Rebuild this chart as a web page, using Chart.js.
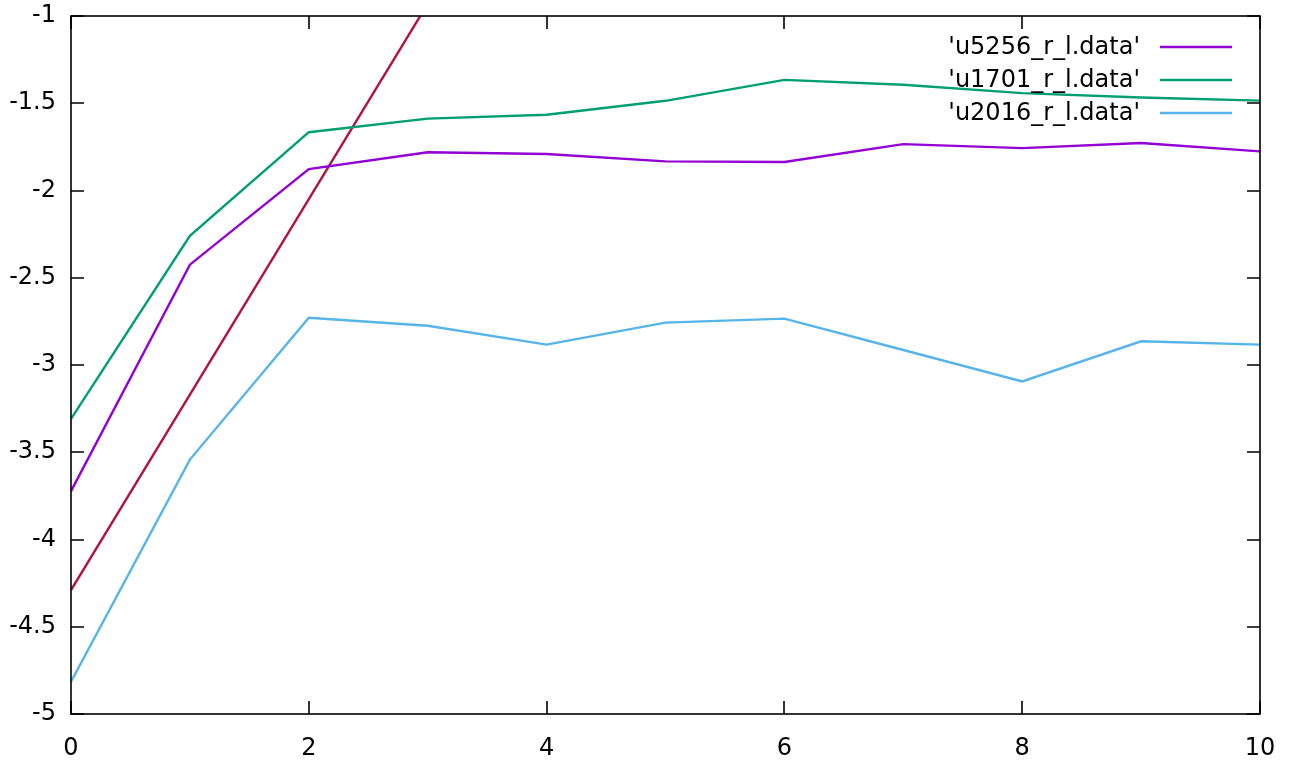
<!DOCTYPE html>
<html>
<head>
<meta charset="utf-8">
<script src="https://cdn.jsdelivr.net/npm/chart.js@4/dist/chart.umd.min.js"></script>
<style>
  html, body { margin: 0; padding: 0; background: #ffffff; }
  #c { display: block; }
</style>
</head>
<body>
<canvas id="c" width="1296" height="760"></canvas>
<script>
// x positions shared by the three data files
const xValues = [0, 1, 2, 3, 4, 5, 6, 7, 8, 9, 10];

// 'u5256_r_l.data'
const u5256 = [-3.723, -2.425, -1.877, -1.781, -1.791, -1.833, -1.837, -1.734, -1.757, -1.728, -1.776];
// 'u1701_r_l.data'
const u1701 = [-3.309, -2.260, -1.666, -1.588, -1.566, -1.486, -1.366, -1.394, -1.442, -1.467, -1.485];
// 'u2016_r_l.data'
const u2016 = [-4.815, -3.542, -2.729, -2.775, -2.883, -2.757, -2.734, -2.914, -3.094, -2.864, -2.883];

// straight reference line (no key entry), leaves the top of the plot
const refX = [0, 1, 2, 3];
const refY = [-4.29, -3.17, -2.05, -0.93];

// axis ticks
const xTicks = [0, 2, 4, 6, 8, 10];
const yTicks = [-5, -4.5, -4, -3.5, -3, -2.5, -2, -1.5, -1];

const seriesNames = ["'u5256_r_l.data'", "'u1701_r_l.data'", "'u2016_r_l.data'"];
const colors = ['#9400d3', '#009e73', '#56b4e9', '#b3123f'];

const FONT = 'DejaVu Sans';
const FONT_SIZE = 24;

function pts(xs, ys) { return xs.map((x, i) => ({ x: x, y: ys[i] })); }

// Frame with inward (mirrored) ticks, plus a gnuplot-style key
const framePlugin = {
  id: 'frame',
  afterDatasetsDraw(chart) {
    const { ctx, chartArea: a, scales } = chart;
    const tl = 13;
    ctx.save();
    ctx.strokeStyle = '#000000';
    ctx.lineWidth = 1.6;
    ctx.beginPath();
    for (const v of xTicks) {
      const px = Math.round(scales.x.getPixelForValue(v));
      ctx.moveTo(px, a.bottom); ctx.lineTo(px, a.bottom - tl);
      ctx.moveTo(px, a.top); ctx.lineTo(px, a.top + tl);
    }
    for (const v of yTicks) {
      const py = Math.round(scales.y.getPixelForValue(v));
      ctx.moveTo(a.left, py); ctx.lineTo(a.left + tl, py);
      ctx.moveTo(a.right, py); ctx.lineTo(a.right - tl, py);
    }
    ctx.stroke();
    ctx.strokeRect(a.left, a.top, a.right - a.left, a.bottom - a.top);

    // key
    ctx.font = FONT_SIZE + 'px "' + FONT + '"';
    ctx.textAlign = 'right';
    ctx.textBaseline = 'middle';
    ctx.fillStyle = '#000000';
    const textRight = a.right - 120;
    const sampleL = a.right - 100;
    const sampleR = a.right - 28;
    const rowTop = a.top + 31;
    const rowGap = 33;
    seriesNames.forEach((name, i) => {
      const y = rowTop + i * rowGap;
      ctx.fillText(name, textRight, y + 1);
      ctx.strokeStyle = colors[i];
      ctx.lineWidth = 2.4;
      ctx.beginPath();
      ctx.moveTo(sampleL, y); ctx.lineTo(sampleR, y);
      ctx.stroke();
    });
    ctx.restore();
  }
};

const lineStyle = (c) => ({
  borderColor: c, backgroundColor: c, borderWidth: 2.4,
  pointRadius: 0, tension: 0, fill: false, clip: 0
});

new Chart(document.getElementById('c'), {
  type: 'line',
  data: {
    datasets: [
      Object.assign({ label: seriesNames[0], data: pts(xValues, u5256) }, lineStyle(colors[0])),
      Object.assign({ label: seriesNames[1], data: pts(xValues, u1701) }, lineStyle(colors[1])),
      Object.assign({ label: seriesNames[2], data: pts(xValues, u2016) }, lineStyle(colors[2])),
      Object.assign({ label: 'ref', data: pts(refX, refY) }, lineStyle(colors[3]))
    ]
  },
  options: {
    responsive: false,
    animation: false,
    devicePixelRatio: 1,
    layout: { padding: { top: 16, right: 36, left: 0, bottom: 0 } },
    plugins: { legend: { display: false }, tooltip: { enabled: false } },
    scales: {
      x: {
        type: 'linear', min: 0, max: 10,
        afterBuildTicks: (s) => { s.ticks = xTicks.map(v => ({ value: v })); },
        afterFit: (s) => { s.height = 46; s.paddingLeft = 0; s.paddingRight = 0; },
        grid: { display: false, drawTicks: false },
        border: { display: false },
        ticks: { color: '#000', padding: 20, callback: (v) => String(v),
                 font: { family: FONT, size: FONT_SIZE } }
      },
      y: {
        type: 'linear', min: -5, max: -1,
        afterBuildTicks: (s) => { s.ticks = yTicks.map(v => ({ value: v })); },
        afterFit: (s) => { s.width = 71; s.paddingTop = 0; s.paddingBottom = 0; },
        grid: { display: false, drawTicks: false },
        border: { display: false },
        ticks: { color: '#000', padding: 15, callback: (v) => String(v),
                 font: { family: FONT, size: FONT_SIZE } }
      }
    }
  },
  plugins: [framePlugin]
});
</script>
</body>
</html>
